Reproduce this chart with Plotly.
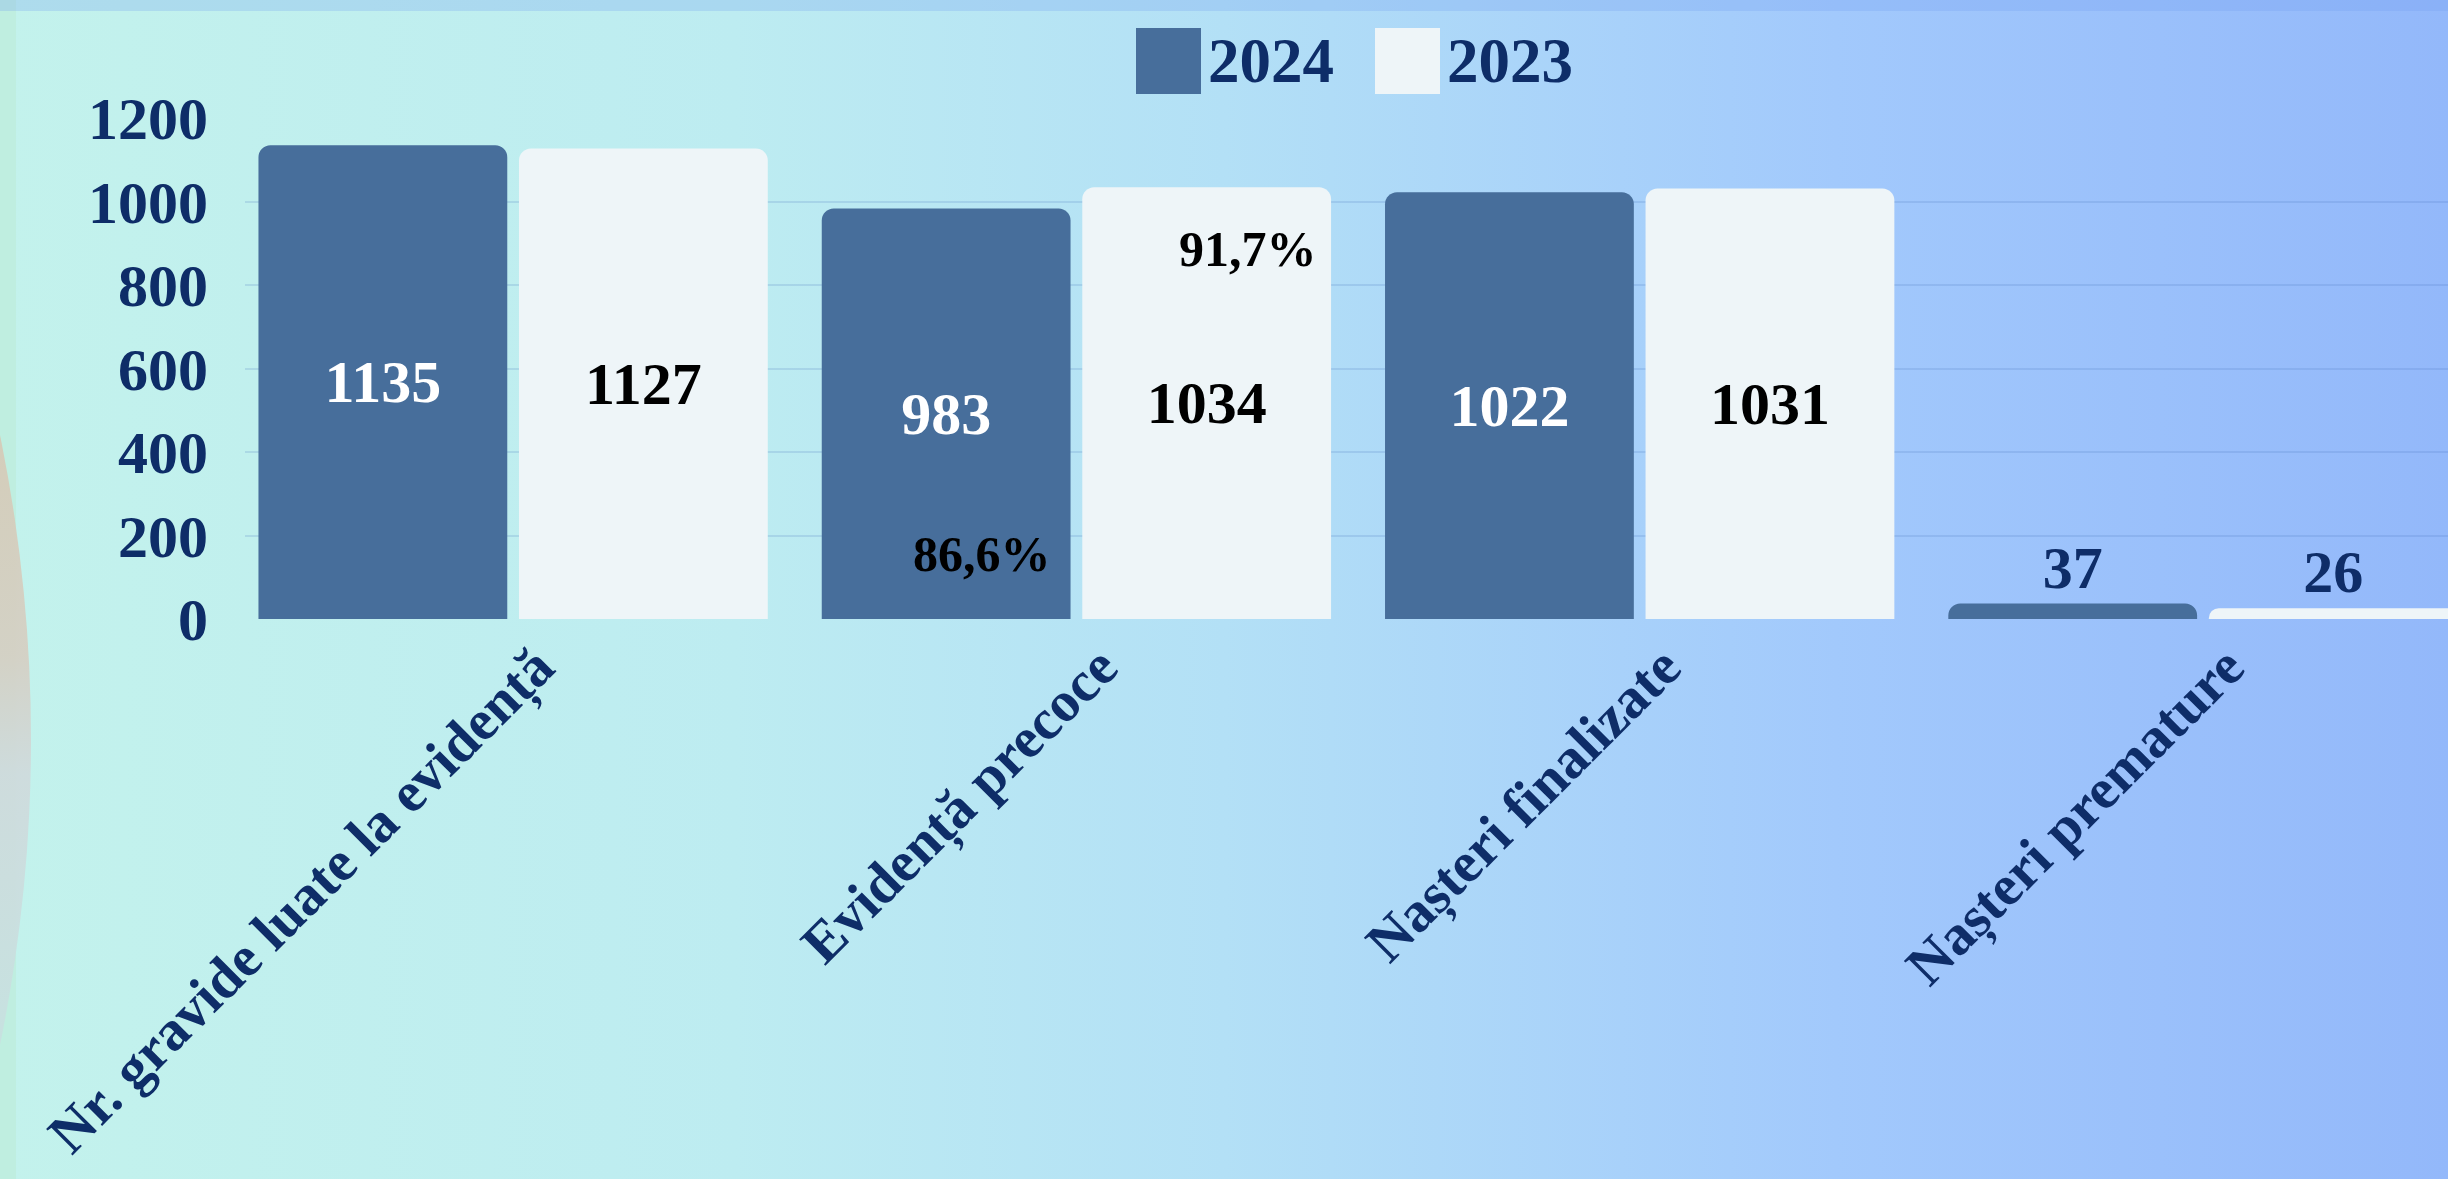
import base64
import plotly.graph_objects as go

# ---------------- data ----------------
categories = ["Nr. gravide luate la evidență", "Evidență precoce", "Nașteri finalizate", "Nașteri premature"]
series_names = ["2024", "2023"]
values_2024 = [1135, 983, 1022, 37]
values_2023 = [1127, 1034, 1031, 26]
pct_2024 = [None, "86,6%", None, None]
pct_2023 = [None, "91,7%", None, None]
pct_y_2024 = [None, 156, None, None]
pct_y_2023 = [None, 886, None, None]
y_ticks = [0, 200, 400, 600, 800, 1000, 1200]

# ---------------- styling ----------------
W, H = 2448, 1179
ML, MR, MT, MB = 245, 0, 118, 560
PW, PH = W - ML - MR, H - MT - MB
C24 = "#476e9b"
C23 = "#eef5f8"
NAVY = "#0e2d68"
FONT = "Liberation Serif"


def px(xp):
    return (xp - ML) / PW


def py(yp):
    return (H - MB - yp) / PH


svg = f'''<svg xmlns="http://www.w3.org/2000/svg" width="{W}" height="{H}" viewBox="0 0 {W} {H}" preserveAspectRatio="none">
<defs>
<linearGradient id="g" x1="0" y1="0" x2="1" y2="0">
<stop offset="0" stop-color="#c3f2ec"/>
<stop offset="0.3" stop-color="#bdecf1"/>
<stop offset="0.5" stop-color="#b3e0f6"/>
<stop offset="0.75" stop-color="#a2c9fc"/>
<stop offset="1" stop-color="#93b8fa"/>
</linearGradient>
<linearGradient id="c" gradientUnits="userSpaceOnUse" x1="0" y1="420" x2="0" y2="1010">
<stop offset="0" stop-color="#d6cab6"/>
<stop offset="0.4" stop-color="#d5cfc3"/>
<stop offset="0.6" stop-color="#cfdadc"/>
<stop offset="1" stop-color="#c8e0e0"/>
</linearGradient>
</defs>
<rect width="{W}" height="{H}" fill="url(#g)"/>
<rect width="16" height="{H}" fill="#bfeee0"/>
<circle cx="-1485" cy="740" r="1516" fill="url(#c)" fill-opacity="0.92"/>
<rect width="{W}" height="11" fill="#6f9cee" fill-opacity="0.25"/>
</svg>'''
bg_uri = "data:image/svg+xml;base64," + base64.b64encode(svg.encode("utf-8")).decode("ascii")

fig = go.Figure()
fig.add_trace(go.Bar(
    name=series_names[0], x=categories, y=values_2024,
    marker=dict(color=C24, cornerradius=12, line=dict(width=0)),
    text=[str(v) for v in values_2024],
    textposition=["inside", "inside", "inside", "outside"],
    insidetextanchor="middle", textangle=0, constraintext="none",
    textfont=dict(family=FONT, size=60, weight="bold", color=["white", "white", "white", NAVY]),
    showlegend=False,
))
fig.add_trace(go.Bar(
    name=series_names[1], x=categories, y=values_2023,
    marker=dict(color=C23, cornerradius=12, line=dict(width=0)),
    text=[str(v) for v in values_2023],
    textposition=["inside", "inside", "inside", "outside"],
    insidetextanchor="middle", textangle=0, constraintext="none",
    textfont=dict(family=FONT, size=60, weight="bold", color=["black", "black", "black", NAVY]),
    showlegend=False,
))

# percentage annotations (positioned relative to each bar of the group)
off = 0.238
for i, (t, yv) in enumerate(zip(pct_2024, pct_y_2024)):
    if t:
        fig.add_annotation(x=i - off + 0.07, y=yv, xref="x", yref="y", text=t, showarrow=False,
                           font=dict(family=FONT, size=50, weight="bold", color="black"))
for i, (t, yv) in enumerate(zip(pct_2023, pct_y_2023)):
    if t:
        fig.add_annotation(x=i + off + 0.066, y=yv, xref="x", yref="y", text=t, showarrow=False,
                           font=dict(family=FONT, size=50, weight="bold", color="black"))

# custom legend (large swatches)
legend_items = [(series_names[0], C24, 1136), (series_names[1], C23, 1375)]
for name, col, x0 in legend_items:
    fig.add_shape(type="rect", xref="paper", yref="paper",
                  x0=px(x0), x1=px(x0 + 65), y0=py(94), y1=py(28),
                  fillcolor=col, line=dict(width=0), layer="above")
    fig.add_annotation(xref="paper", yref="paper", x=px(x0 + 70), y=py(61), xanchor="left", yanchor="middle",
                       text=name, showarrow=False,
                       font=dict(family=FONT, size=63, weight="bold", color=NAVY))

fig.add_layout_image(dict(source=bg_uri, xref="paper", yref="paper",
                          x=px(0), y=py(0), sizex=W / PW, sizey=H / PH,
                          xanchor="left", yanchor="top", sizing="stretch", layer="below"))

fig.update_layout(
    width=W, height=H, autosize=False,
    margin=dict(l=ML, r=MR, t=MT, b=MB, pad=0, autoexpand=False),
    paper_bgcolor="#b3e0f6", plot_bgcolor="rgba(0,0,0,0)",
    barmode="group", bargap=0.075, bargroupgap=0.045,
    showlegend=False,
    font=dict(family=FONT, color=NAVY),
    xaxis=dict(range=[-0.476, 3.435], tickangle=-45, showgrid=False, zeroline=False, showline=False,
               automargin=False,
               ticks="", tickfont=dict(family=FONT, size=57, weight="bold", color=NAVY),
               ticklabelstandoff=2, ticklabelshift=24),
    yaxis=dict(range=[0, 1200], tickvals=y_ticks, showgrid=True, gridcolor="rgba(70,115,190,0.18)",
               gridwidth=2, zeroline=False, showline=False, ticks="", automargin=False,
               tickfont=dict(family=FONT, size=60, weight="bold", color=NAVY),
               ticklabelstandoff=36),
)

fig.write_html("out.html", config={"displayModeBar": False},
               post_script="document.body.style.margin='0';document.body.style.overflow='hidden';")
